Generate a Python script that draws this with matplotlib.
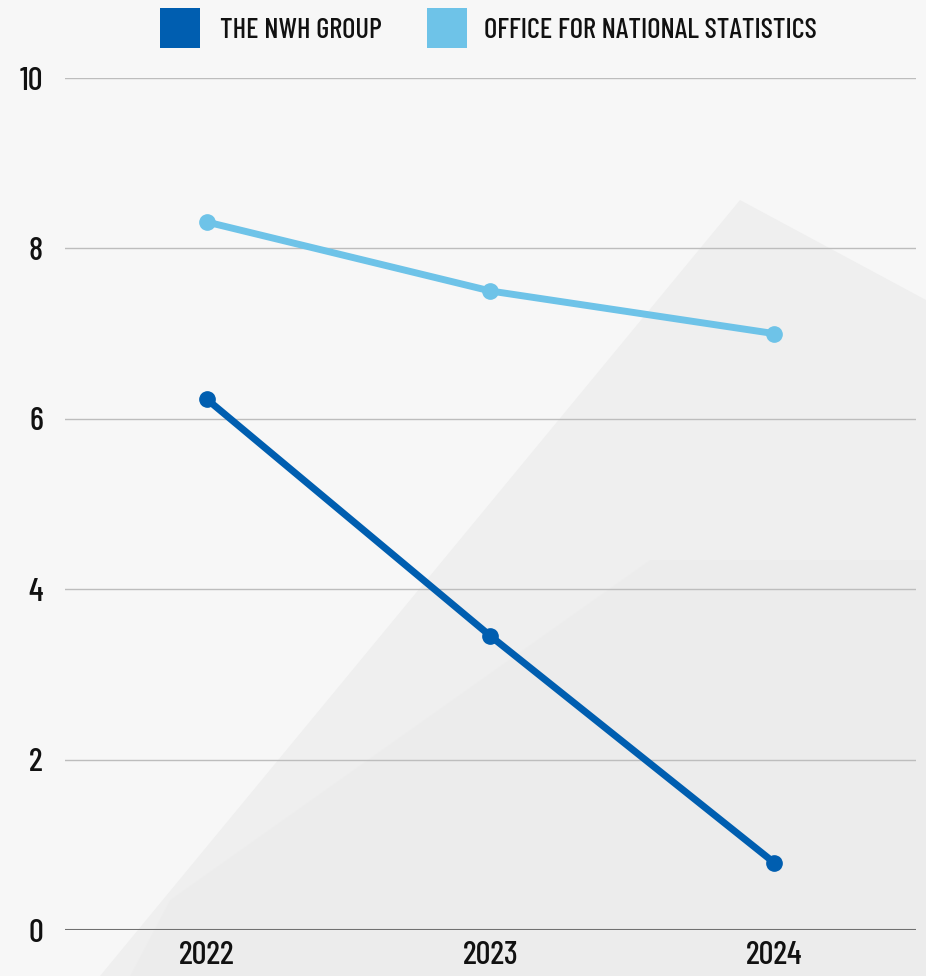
import matplotlib
matplotlib.use("Agg")
import matplotlib.pyplot as plt
from matplotlib.patches import Polygon, Rectangle
from matplotlib import font_manager as fm
from matplotlib.textpath import TextPath
from matplotlib.font_manager import FontProperties

years = ["2022", "2023", "2024"]
nwh = [6.23, 3.45, 0.79]
ons = [8.31, 7.50, 7.00]
yticks = [0, 2, 4, 6, 8, 10]
series_names = ["THE NWH GROUP", "OFFICE FOR NATIONAL STATISTICS"]
colors = ["#005EB0", "#6EC3E8"]

TARGET = 7.9  # width of "THE NWH GROUP" / cap height in reference
best = None
for f in fm.fontManager.ttflist:
    nm = f.name
    fn = f.fname.lower()
    if "cjk" in nm.lower() or fn.endswith(".ttc") or fn.endswith(".otc"):
        continue
    st = str(f.stretch).lower()
    cond = ("condensed" in st or "narrow" in nm.lower() or "condensed" in nm.lower()
            or "condensed" in fn or "narrow" in fn)
    if not cond or f.style != "normal":
        continue
    w = f.weight if isinstance(f.weight, int) else 400
    if w < 400 or w > 650:
        continue
    try:
        fp = FontProperties(fname=f.fname)
        ext = TextPath((0, 0), "THE NWH GROUP", size=100, prop=fp).get_extents()
        e2 = TextPath((0, 0), "H", size=100, prop=fp).get_extents()
        ratio = ext.width / e2.height
    except Exception:
        continue
    if ratio <= 0:
        continue
    score = abs(ratio - TARGET) + 0.004 * abs(w - 500)
    if best is None or score < best[0]:
        best = (score, f.fname, e2.height / 100.0)

if best is None:
    fname = fm.findfont(FontProperties(family="DejaVu Sans", stretch="condensed"))
    e2 = TextPath((0, 0), "H", size=100, prop=FontProperties(fname=fname)).get_extents()
    best = (0, fname, e2.height / 100.0)
_, fname, capfrac = best

def fprop(cap_px):
    size_px = cap_px / capfrac
    return FontProperties(fname=fname, size=size_px * 72 / 100)

W, H = 926, 976
fig = plt.figure(figsize=(W / 100, H / 100), dpi=100)
fig.patch.set_facecolor("#f7f7f7")

bg = fig.add_axes([0, 0, 1, 1], zorder=-10)
bg.set_xlim(0, W); bg.set_ylim(H, 0); bg.axis("off")
bg.add_patch(Polygon([[100, 976], [740, 200], [926, 300], [926, 976]], closed=True,
                     facecolor="#efefef", edgecolor="none"))
bg.add_patch(Polygon([[170, 900], [650, 560], [926, 560], [926, 976], [130, 976]], closed=True,
                     facecolor="#ebebeb", edgecolor="none", alpha=0.5))

ax = fig.add_axes([65 / W, (H - 930) / H, (916 - 65) / W, (930 - 78) / H])
ax.set_facecolor("none")
x = list(range(len(years)))
ax.plot(x, nwh, color=colors[0], lw=5, marker="o", ms=11, zorder=3, solid_capstyle="round")
ax.plot(x, ons, color=colors[1], lw=5, marker="o", ms=11, zorder=3, solid_capstyle="round")

ax.set_xlim(-0.5, 2.5)
ax.set_ylim(0, 10)
ax.set_yticks(yticks)
ax.set_xticks(x)
ax.set_xticklabels(years)
for s in ax.spines.values():
    s.set_visible(False)
ax.grid(axis="y", color="#bdbdbd", lw=1)
ax.axhline(0, color="#707070", lw=1.5, zorder=2)
ax.tick_params(length=0)
ax.tick_params(axis="y", pad=16)
ax.tick_params(axis="x", pad=8)
tick_fp = fprop(23)
for lab in ax.get_yticklabels() + ax.get_xticklabels():
    lab.set_fontproperties(tick_fp)
    lab.set_color("#111111")

lg = fig.add_axes([0, 0, 1, 1], zorder=5)
lg.set_xlim(0, W); lg.set_ylim(H, 0); lg.axis("off")
leg_fp = fprop(20)
for (px, tx), name, c in zip([(160, 220), (427, 484)], series_names, colors):
    lg.add_patch(Rectangle((px, 8), 40, 40, facecolor=c, edgecolor="none"))
    lg.text(tx, 31, name, fontproperties=leg_fp, va="center", ha="left", color="#111111")

fig.savefig("out.png", dpi=100, facecolor=fig.get_facecolor())
